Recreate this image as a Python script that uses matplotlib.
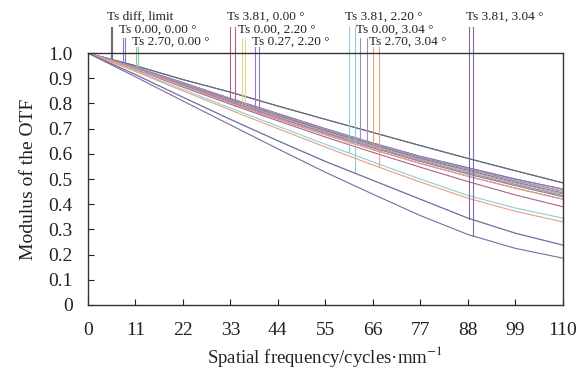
import numpy as np
import matplotlib
matplotlib.use("Agg")
import matplotlib.pyplot as plt

plt.rcParams['font.family'] = ['Liberation Serif', 'DejaVu Serif']
plt.rcParams['mathtext.fontset'] = 'stix'

freq = [0, 11, 22, 33, 44, 55, 66, 77, 88, 99, 110]

# MTF curves (tangential / sagittal per field)
mtf_top = [1, .950, .895, .845, .790, .737, .685, .633, .582, .533, .485]
mtf_c1 = [1, .944, .883, .820, .760, .700, .643, .590, .545, .500, .460]
mtf_c2 = [1, .943, .881, .818, .757, .697, .640, .586, .540, .494, .452]
mtf_c3 = [1, .942, .879, .815, .753, .693, .636, .582, .535, .488, .445]
mtf_c4 = [1, .941, .877, .812, .750, .690, .632, .578, .530, .484, .440]
mtf_c5 = [1, .940, .875, .809, .746, .686, .628, .574, .525, .479, .435]
mtf_c6 = [1, .939, .873, .806, .743, .682, .624, .570, .520, .474, .430]
mtf_c7 = [1, .937, .869, .801, .737, .676, .617, .562, .511, .464, .420]
mtf_r39 = [1, .935, .865, .797, .731, .667, .606, .547, .490, .437, .390]
mtf_green = [1, .930, .856, .782, .710, .638, .568, .500, .435, .385, .345]
mtf_orange = [1, .927, .850, .774, .700, .627, .556, .488, .424, .372, .330]
mtf_purple = [1, .915, .825, .737, .652, .570, .495, .420, .345, .285, .238]
mtf_bottom = [1, .906, .810, .715, .620, .527, .440, .355, .280, .225, .186]

fields = ["diff, limit", "0.00, 0.00 °", "2.70, 0.00 °", "3.81, 0.00 °",
          "0.00, 2.20 °", "0.27, 2.20 °", "3.81, 2.20 °", "0.00, 3.04 °",
          "2.70, 3.04 °", "3.81, 3.04 °"]
mtf_t = [mtf_top, mtf_c1, mtf_c2, mtf_c3, mtf_c5, mtf_c6, mtf_green,
         mtf_c2, mtf_c7, mtf_purple]
mtf_s = [mtf_top, mtf_c1, mtf_c4, mtf_r39, mtf_c6, mtf_c7, mtf_purple,
         mtf_c5, mtf_orange, mtf_bottom]
colors = ['#6a6a80', '#8478c0', '#88c898', '#b0608a', '#ddd58a',
          '#9a78b0', '#88d0d8', '#a090b8', '#e8a080', '#8068a0']

# label markers
mark_t = [5.3, 8.1, 11.1, 33.0, 35.6, 38.7, 60.4, 63.0, 66.0, 88.3]
mark_s = [5.7, 8.7, 11.6, 34.0, 36.5, 39.6, 61.8, 64.6, 67.4, 89.2]
rows = [0, 1, 2, 0, 1, 2, 0, 1, 2, 0]
row_text_y = [1.145, 1.093, 1.045]
row_line_y = [1.103, 1.060, 1.024]

fig = plt.figure(figsize=(5.82, 3.74), dpi=100)
ax = fig.add_axes([0.151, 0.1845, 0.816, 0.6735])

for i in range(len(fields)):
    ax.plot(freq, mtf_t[i], color=colors[i], lw=0.8)
    ax.plot(freq, mtf_s[i], color=colors[i], lw=0.8)
    r = rows[i]
    for xm, curve in ((mark_t[i], mtf_t[i]), (mark_s[i], mtf_s[i])):
        yend = np.interp(xm, freq, curve)
        ax.plot([xm, xm], [yend, row_line_y[r]], color=colors[i], lw=0.8,
                clip_on=False)
    ax.text(mark_t[i] - 0.8, row_text_y[r], "Ts " + fields[i], fontsize=9.5,
            va='center', ha='left', color='#222222')

ax.set_xlim(0, 110)
ax.set_ylim(0, 1)
ax.set_xticks(freq)
ax.set_yticks(np.arange(0, 1.01, 0.1))
ax.set_yticklabels(['0'] + [f"{v:.1f}" for v in np.arange(0.1, 1.01, 0.1)])
ax.tick_params(direction='in', length=4, width=0.8, labelsize=14,
               colors='#222222')
ax.tick_params(axis='y', pad=11)
ax.tick_params(axis='x', pad=12)
for sp in ax.spines.values():
    sp.set_linewidth(1.0)
    sp.set_color('#333333')

ax.set_xlabel(r"Spatial frequency/cycles·mm$^{-1}$", fontsize=13.5,
              labelpad=4, color='#222222')
ax.set_ylabel("Modulus of the OTF", fontsize=14, labelpad=8, color='#222222')

fig.savefig("out.png", dpi=100)
